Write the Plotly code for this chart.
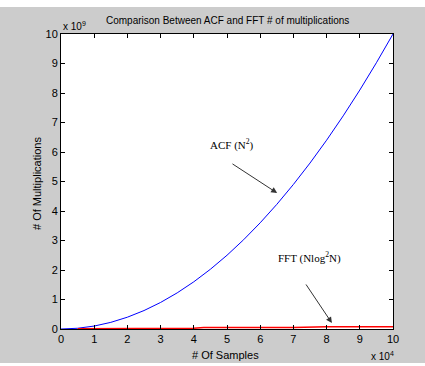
import plotly.graph_objects as go

# Number of samples (x 10^4)
samples = [0, 0.5, 1, 1.5, 2, 2.5, 3, 3.5, 4, 4.5, 5, 5.5, 6, 6.5, 7, 7.5, 8, 8.5, 9, 9.5, 10]
# ACF multiplications N^2 (x 10^9)
acf = [0, 0.025, 0.1, 0.225, 0.4, 0.625, 0.9, 1.225, 1.6, 2.025, 2.5, 3.025, 3.6, 4.225, 4.9,
       5.625, 6.4, 7.225, 8.1, 9.025, 10]
# FFT multiplications (x 10^9)
fft_x = [0.5, 1, 2, 3, 4, 4.3, 5, 6, 7, 8, 9, 10]
fft = [0.01, 0.01, 0.015, 0.02, 0.025, 0.05, 0.05, 0.05, 0.05, 0.08, 0.08, 0.08]

x_ticks = [0, 1, 2, 3, 4, 5, 6, 7, 8, 9, 10]
y_ticks = [0, 1, 2, 3, 4, 5, 6, 7, 8, 9, 10]

fig = go.Figure()
fig.add_trace(go.Scatter(x=samples, y=acf, mode="lines", line=dict(color="#0000ff", width=1),
                         showlegend=False))
fig.add_trace(go.Scatter(x=fft_x, y=fft, mode="lines", line=dict(color="#ff0000", width=1.5),
                         showlegend=False))

W, H = 425, 366
L, R, T, B = 61, 32, 34, 37
pw, ph = W - L - R, H - T - B

def px(x):
    return (x - L) / pw

def py(y):
    return (H - B - y) / ph

fig.update_layout(
    width=W, height=H,
    margin=dict(l=L, r=R, t=T, b=B),
    paper_bgcolor="white",
    plot_bgcolor="white",
    font=dict(family="Liberation Sans, Arial", size=11, color="black"),
    showlegend=False,
    shapes=[
        dict(type="rect", xref="paper", yref="paper", x0=px(0), x1=px(W), y0=py(363), y1=py(7),
             fillcolor="#cccccc", line=dict(width=0), layer="below"),
        dict(type="rect", xref="paper", yref="paper", x0=0, x1=1, y0=0, y1=1,
             fillcolor="white", line=dict(width=0), layer="below"),
    ],
)
fig.update_xaxes(range=[0, 10], tickvals=x_ticks, ticktext=[str(t) for t in x_ticks],
                 ticks="inside", ticklen=4, tickcolor="black", mirror="allticks",
                 showline=True, linecolor="black", linewidth=1, showgrid=False, zeroline=False,
                 tickfont=dict(size=11))
fig.update_yaxes(range=[0, 10], tickvals=y_ticks, ticktext=[str(t) for t in y_ticks],
                 ticks="inside", ticklen=4, tickcolor="black", mirror="allticks",
                 showline=True, linecolor="black", linewidth=1, showgrid=False, zeroline=False,
                 tickfont=dict(size=11))

ann = []
ann.append(dict(text="Comparison Between ACF and FFT # of multiplications", xref="paper", yref="paper",
                x=0.5, y=py(20), xanchor="center", yanchor="middle", showarrow=False,
                font=dict(size=10)))
ann.append(dict(text="x 10<sup>9</sup>", xref="paper", yref="paper", x=px(61), y=py(26),
                xanchor="left", yanchor="middle", showarrow=False, font=dict(size=10)))
ann.append(dict(text="x 10<sup>4</sup>", xref="paper", yref="paper", x=px(396), y=py(356),
                xanchor="right", yanchor="middle", showarrow=False, font=dict(size=10)))
ann.append(dict(text="# Of Samples", xref="paper", yref="paper", x=px(225), y=py(355),
                xanchor="center", yanchor="middle", showarrow=False, font=dict(size=11)))
ann.append(dict(text="# Of Multiplications", xref="paper", yref="paper", x=px(37), y=py(184),
                xanchor="center", yanchor="middle", showarrow=False, textangle=-90,
                font=dict(size=11)))
ann.append(dict(text="ACF (N<sup>2</sup>)", x=5.15, y=6.27, xref="x", yref="y", showarrow=False,
                font=dict(family="Liberation Serif, Times New Roman", size=11)))
ann.append(dict(x=6.51, y=4.61, ax=5.12, ay=5.63, xref="x", yref="y", axref="x", ayref="y",
                text="", showarrow=True, arrowhead=2, arrowsize=1.2, arrowwidth=1, arrowcolor="#333333"))
ann.append(dict(text="FFT (Nlog<sup>2</sup>N)", x=7.47, y=2.41, xref="x", yref="y", showarrow=False,
                font=dict(family="Liberation Serif, Times New Roman", size=11)))
ann.append(dict(x=8.16, y=0.2, ax=7.35, ay=1.56, xref="x", yref="y", axref="x", ayref="y",
                text="", showarrow=True, arrowhead=2, arrowsize=1.2, arrowwidth=1, arrowcolor="#333333"))
fig.update_layout(annotations=ann)

fig.write_html("out.html")
